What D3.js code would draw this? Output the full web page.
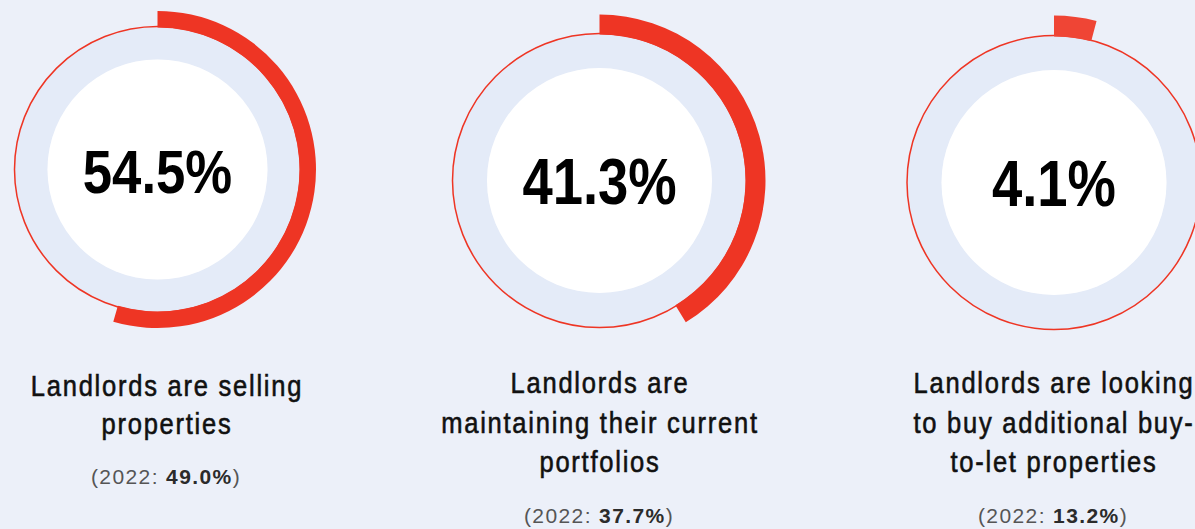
<!DOCTYPE html>
<html>
<head>
<meta charset="utf-8">
<script src="https://cdn.jsdelivr.net/npm/d3@7"></script>
<style>
  html, body { margin: 0; padding: 0; background: #ecf0f9; }
  svg { display: block; }
</style>
</head>
<body>
<svg id="chart" width="1195" height="529"></svg>
<script>
// Share of landlords by intention (current survey)
const shares = [54.5, 41.3, 4.1];
// Same measure in the 2022 survey
const shares2022 = [49.0, 37.7, 13.2];
// Caption lines under each ring
const captions = [
  ["Landlords are selling", "properties"],
  ["Landlords are", "maintaining their current", "portfolios"],
  ["Landlords are looking", "to buy additional buy-", "to-let properties"]
];

// Layout of each ring panel
const panels = [
  { cx: 157.5, cy: 169.5, rWhite: 110,   rOutline: 143, rArcIn: 142, rArcOut: 158.5, capX: 167,  capY: [396, 434],      prevY: 484, numY: 193, numSize: 62, arcColor: "#ee3524" },
  { cx: 599.5, cy: 180.5, rWhite: 112.5, rOutline: 147, rArcIn: 146, rArcOut: 166,   capX: 600,  capY: [393, 433, 472], prevY: 523, numY: 204, numSize: 64, arcColor: "#ee3524" },
  { cx: 1054,  cy: 182.5, rWhite: 112.5, rOutline: 147, rArcIn: 146, rArcOut: 167,   capX: 1054, capY: [393, 433, 472], prevY: 523, numY: 206, numSize: 64, arcColor: "#ef4535" }
];

// condensed look: horizontally squeezed sans
const NUM_SX = 0.85;
const CAP_SX = 0.88;

const svg = d3.select("#chart");
const angle = d3.scaleLinear().domain([0, 100]).range([0, 2 * Math.PI]);
const fmt = d3.format(".1f");

function squeezed(x, y, sx) {
  return svg.append("text")
    .attr("transform", `translate(${x},${y}) scale(${sx},1)`)
    .attr("text-anchor", "middle")
    .attr("font-family", "'Liberation Sans', Arial, sans-serif");
}

panels.forEach((p, i) => {
  const g = svg.append("g").attr("transform", `translate(${p.cx},${p.cy})`);

  // pale track between the white disc and the outline
  g.append("path")
    .attr("d", d3.arc()({ innerRadius: p.rWhite, outerRadius: p.rOutline, startAngle: 0, endAngle: 2 * Math.PI }))
    .attr("fill", "#e4ebf8");

  g.append("circle").attr("r", p.rWhite).attr("fill", "#ffffff");

  g.append("circle")
    .attr("r", p.rOutline)
    .attr("fill", "none")
    .attr("stroke", "#ee3524")
    .attr("stroke-width", 1.5);

  // value arc, clockwise from 12 o'clock
  g.append("path")
    .attr("d", d3.arc()({ innerRadius: p.rArcIn, outerRadius: p.rArcOut, startAngle: 0, endAngle: angle(shares[i]) }))
    .attr("fill", p.arcColor);

  // big centre value
  squeezed(p.cx, p.numY, NUM_SX)
    .attr("font-weight", "bold")
    .attr("font-size", p.numSize)
    .attr("fill", "#000")
    .text(fmt(shares[i]) + "%");

  // caption
  captions[i].forEach((line, j) => {
    squeezed(p.capX, p.capY[j], CAP_SX)
      .attr("font-size", 29)
      .attr("fill", "#111")
      .attr("stroke", "#111")
      .attr("stroke-width", 0.6)
      .attr("letter-spacing", 2)
      .text(line);
  });

  // previous-year comparison
  const prev = svg.append("text")
    .attr("x", p.capX - 1)
    .attr("y", p.prevY)
    .attr("text-anchor", "middle")
    .attr("font-family", "'Liberation Sans', Arial, sans-serif")
    .attr("font-size", 21)
    .attr("letter-spacing", 1.4)
    .attr("fill", "#555");
  prev.append("tspan").text("(2022: ");
  prev.append("tspan").attr("font-weight", "bold").attr("fill", "#2b2b2b").text(fmt(shares2022[i]) + "%");
  prev.append("tspan").text(")");
});
</script>
</body>
</html>
